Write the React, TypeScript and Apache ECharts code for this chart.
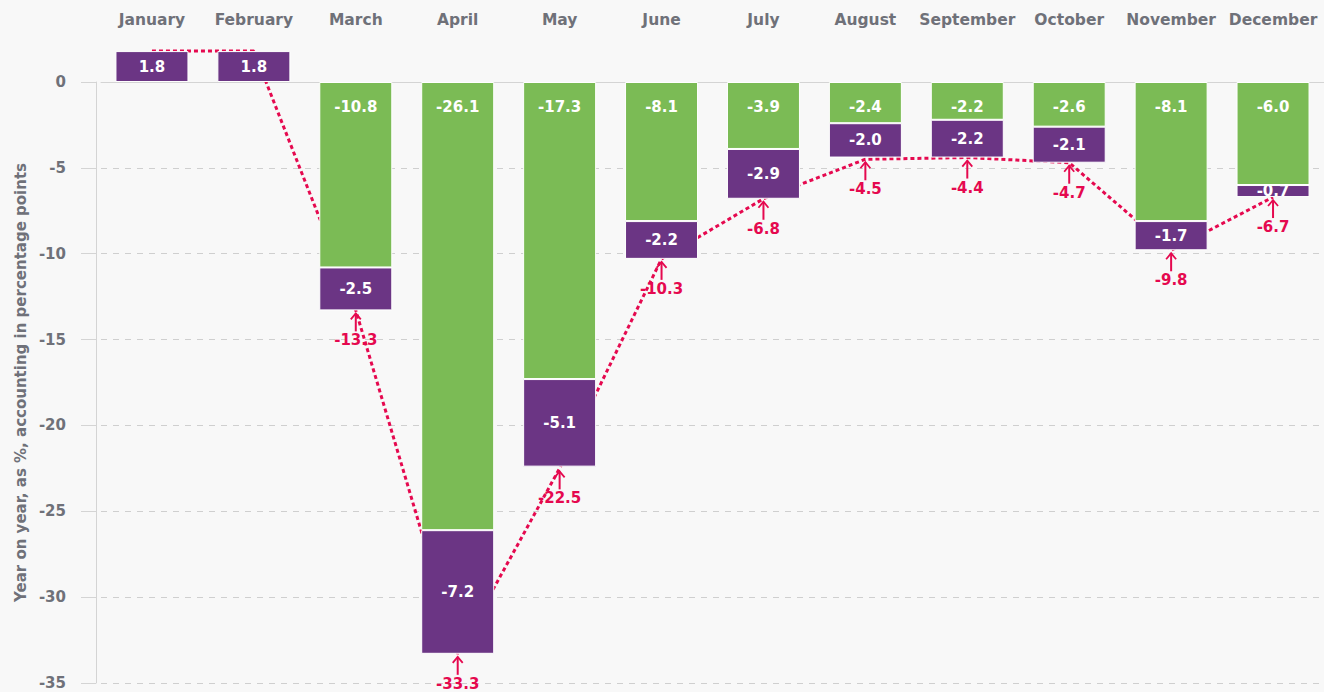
import React, { useEffect, useRef } from 'react';
import * as echarts from 'echarts';

const months = ['January', 'February', 'March', 'April', 'May', 'June', 'July', 'August', 'September', 'October', 'November', 'December'];
const greenValues = [null, null, -10.8, -26.1, -17.3, -8.1, -3.9, -2.4, -2.2, -2.6, -8.1, -6.0];
const purpleValues = [1.8, 1.8, -2.5, -7.2, -5.1, -2.2, -2.9, -2.0, -2.2, -2.1, -1.7, -0.7];
const totals = [1.8, 1.8, -13.3, -33.3, -22.5, -10.3, -6.8, -4.5, -4.4, -4.7, -9.8, -6.7];
const yMin = -35;
const yMax = 0;
const yInterval = 5;
const yAxisTitle = 'Year on year, as %, accounting in percentage points';

const FONT = '"DejaVu Sans", sans-serif';
const GREEN = '#7BBB55';
const PURPLE = '#6B3584';
const RED = '#E5094F';
const GREY = '#6F7179';

export default function App() {
  const ref = useRef<HTMLDivElement>(null);
  useEffect(() => {
    if (!ref.current) return;
    const chart = echarts.init(ref.current, null, { renderer: 'svg' });
    const arrowData = totals.map((v, i) => [i, v]).filter((d) => d[1] < 0);
    chart.setOption({
      animation: false,
      backgroundColor: '#F8F8F8',
      grid: { left: 101, right: -4, top: 82, bottom: 9, containLabel: false },
      xAxis: {
        type: 'category',
        position: 'top',
        data: months,
        axisLine: { show: true, onZero: false, lineStyle: { color: '#D4D4D4', width: 1 } },
        axisTick: { show: false },
        axisLabel: {
          interval: 0,
          hideOverlap: false,
          margin: 54,
          color: GREY,
          fontFamily: FONT,
          fontWeight: 'bold',
          fontSize: 15.5,
        },
      },
      yAxis: {
        type: 'value',
        min: yMin,
        max: yMax,
        interval: yInterval,
        offset: 5,
        name: yAxisTitle,
        nameLocation: 'middle',
        nameRotate: 90,
        nameGap: 66,
        nameTextStyle: { color: GREY, fontFamily: FONT, fontWeight: 'bold', fontSize: 15 },
        axisLine: { show: true, lineStyle: { color: '#D4D4D4', width: 1 } },
        axisTick: { show: true, length: 15, lineStyle: { color: '#D4D4D4' } },
        axisLabel: { margin: 30, color: GREY, fontFamily: FONT, fontWeight: 'bold', fontSize: 15 },
        splitLine: { show: true, lineStyle: { color: '#CFCFCF', type: [6, 6], width: 1 } },
      },
      series: [
        {
          type: 'line',
          name: 'Total',
          data: totals,
          symbol: 'none',
          clip: false,
          silent: true,
          z: 1,
          lineStyle: { color: RED, width: 3, type: [4, 3] },
        },
        {
          type: 'bar',
          name: 'Component 1',
          stack: 'total',
          data: greenValues,
          barWidth: 73,
          clip: false,
          z: 3,
          itemStyle: { color: GREEN, borderColor: '#FFFFFF', borderWidth: 1 },
          label: {
            show: true,
            position: 'insideTop',
            distance: 17,
            formatter: (p: any) => (p.value == null ? '' : Number(p.value).toFixed(1)),
            color: '#FFFFFF',
            fontFamily: FONT,
            fontWeight: 'bold',
            fontSize: 15,
          },
        },
        {
          type: 'bar',
          name: 'Component 2',
          stack: 'total',
          data: purpleValues,
          barWidth: 73,
          clip: false,
          z: 3,
          itemStyle: { color: PURPLE, borderColor: '#FFFFFF', borderWidth: 1 },
          label: {
            show: true,
            position: 'inside',
            formatter: (p: any) => Number(p.value).toFixed(1),
            color: '#FFFFFF',
            fontFamily: FONT,
            fontWeight: 'bold',
            fontSize: 15,
          },
        },
        {
          type: 'custom',
          name: 'Total labels',
          data: arrowData,
          z: 5,
          silent: true,
          renderItem: (params: any, api: any) => {
            const p = api.coord([api.value(0), api.value(1)]);
            const x = p[0];
            const y = p[1];
            return {
              type: 'group',
              children: [
                { type: 'line', shape: { x1: x, y1: y + 3, x2: x, y2: y + 21 }, style: { stroke: RED, lineWidth: 2 } },
                {
                  type: 'polyline',
                  shape: { points: [[x - 5, y + 9], [x, y + 3], [x + 5, y + 9]] },
                  style: { stroke: RED, lineWidth: 1.8, fill: null },
                },
                {
                  type: 'text',
                  x: x,
                  y: y + 30,
                  style: {
                    text: Number(api.value(1)).toFixed(1),
                    fill: RED,
                    fontFamily: FONT,
                    fontWeight: 'bold',
                    fontSize: 15,
                    align: 'center',
                    verticalAlign: 'middle',
                  },
                },
              ],
            };
          },
        },
      ],
    });
    return () => chart.dispose();
  }, []);
  return (
    <div
      ref={ref}
      style={{ position: 'fixed', left: 0, top: 0, width: 1324, height: 692, background: '#F8F8F8' }}
    />
  );
}
